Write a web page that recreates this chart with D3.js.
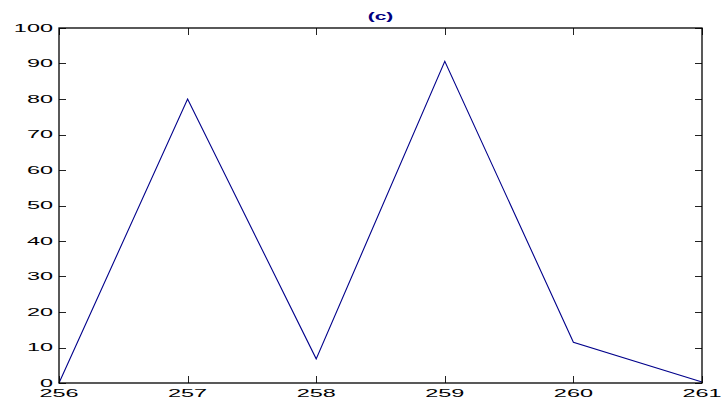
<!DOCTYPE html>
<html>
<head>
<meta charset="utf-8">
<script src="https://cdn.jsdelivr.net/npm/d3@7"></script>
<style>
  html, body { margin: 0; padding: 0; background: #fff; }
  svg { display: block; }
  text { font-family: "Liberation Sans", Arial, sans-serif; }
</style>
</head>
<body>
<script>
// Series data
const xValues = [256, 257, 258, 259, 260, 261];
const yValues = [0, 80, 6.8, 90.6, 11.5, 0.3];
const xTicks = [256, 257, 258, 259, 260, 261];
const yTicks = [0, 10, 20, 30, 40, 50, 60, 70, 80, 90, 100];
const titleText = "(c)";

const W = 725, H = 406;
const plot = { left: 59, right: 702, top: 28, bottom: 383 };
const tickLen = 7;
const stretch = 2.3;   // wide tick-label glyphs

const svg = d3.select("body").append("svg")
  .attr("width", W).attr("height", H);

const x = d3.scaleLinear().domain([256, 261]).range([plot.left, plot.right]);
const y = d3.scaleLinear().domain([0, 100]).range([plot.bottom, plot.top]);

// Data line
const line = d3.line().x((d, i) => x(xValues[i])).y(d => y(d));
svg.append("path")
  .datum(yValues)
  .attr("d", line)
  .attr("fill", "none")
  .attr("stroke", "#00008b")
  .attr("stroke-width", 1.1)
  .attr("stroke-linejoin", "miter");

// Inward ticks on all four sides
const g = svg.append("g").attr("stroke", "#222").attr("stroke-width", 1);
xTicks.forEach(t => {
  const px = Math.round(x(t)) + 0.5;
  g.append("line").attr("x1", px).attr("x2", px)
    .attr("y1", plot.bottom).attr("y2", plot.bottom - tickLen);
  g.append("line").attr("x1", px).attr("x2", px)
    .attr("y1", plot.top).attr("y2", plot.top + tickLen);
});
yTicks.forEach(t => {
  const py = Math.round(y(t)) + 0.5;
  g.append("line").attr("y1", py).attr("y2", py)
    .attr("x1", plot.left).attr("x2", plot.left + tickLen);
  g.append("line").attr("y1", py).attr("y2", py)
    .attr("x1", plot.right).attr("x2", plot.right - tickLen);
});

// Axes box
svg.append("rect")
  .attr("x", plot.left).attr("y", plot.top)
  .attr("width", plot.right - plot.left).attr("height", plot.bottom - plot.top)
  .attr("fill", "none").attr("stroke", "#000").attr("stroke-width", 1.3);

// Tick labels
const labelSize = 10.2;
yTicks.forEach(t => {
  svg.append("text")
    .attr("transform", `translate(53,${y(t) + 3.7}) scale(${stretch},1)`)
    .attr("text-anchor", "end")
    .attr("font-size", labelSize)
    .attr("fill", "#000")
    .text(t);
});
xTicks.forEach(t => {
  svg.append("text")
    .attr("transform", `translate(${x(t)},397) scale(${stretch},1)`)
    .attr("text-anchor", "middle")
    .attr("font-size", labelSize)
    .attr("fill", "#000")
    .text(t);
});

// Title
svg.append("text")
  .attr("transform", `translate(${(plot.left + plot.right) / 2},19.5) scale(2.0,1)`)
  .attr("text-anchor", "middle")
  .attr("font-size", 10.5)
  .attr("font-weight", "bold")
  .attr("fill", "#00007f")
  .text(titleText);
</script>
</body>
</html>
